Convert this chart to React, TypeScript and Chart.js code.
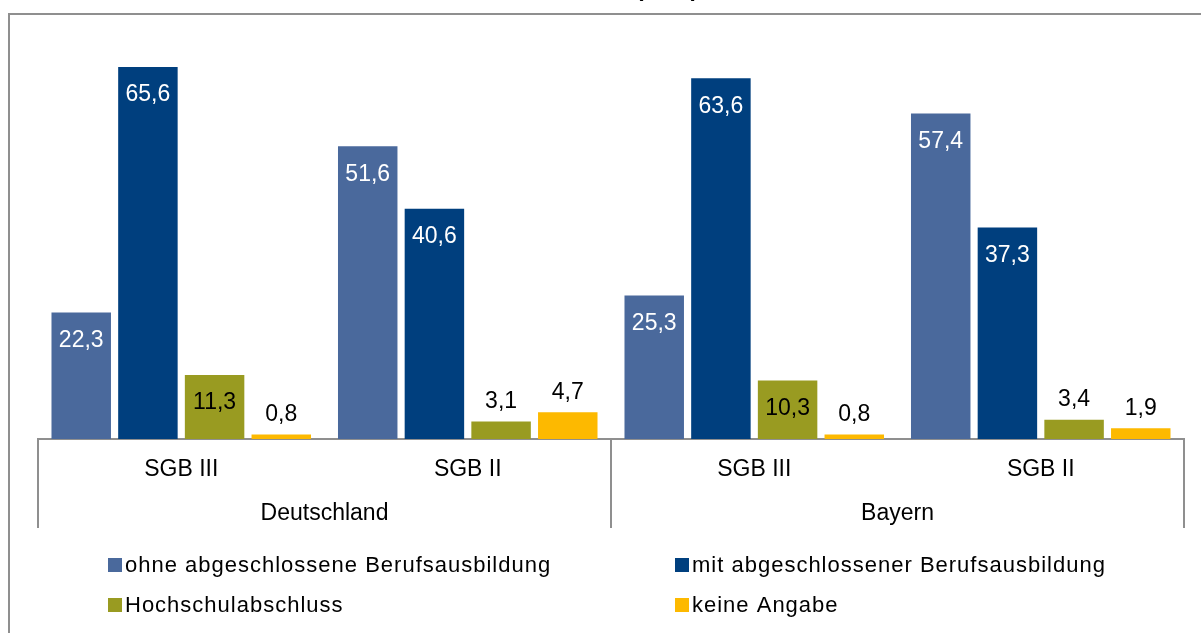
import React, { useEffect, useRef } from 'react';
import { Chart, registerables } from 'chart.js';

Chart.register(...registerables);

const innerLabels = ['SGB III', 'SGB II', 'SGB III', 'SGB II'];
const outerLabels = ['Deutschland', 'Bayern'];
const seriesNames = [
  'ohne abgeschlossene Berufsausbildung',
  'mit abgeschlossener Berufsausbildung',
  'Hochschulabschluss',
  'keine Angabe',
];
const ohneValues = [22.3, 51.6, 25.3, 57.4];
const mitValues = [65.6, 40.6, 63.6, 37.3];
const hochschulValues = [11.3, 3.1, 10.3, 3.4];
const keineValues = [0.8, 4.7, 0.8, 1.9];
const seriesColors = ['#4A699C', '#003F7E', '#999B21', '#FDB900'];
const insideLabelColors = ['#FFFFFF', '#FFFFFF', '#000000', '#000000'];
const titleText = '(in %)';
const yMin = 0;
const yMax = 70;
const insideThreshold = 10;

const FONT = '"Liberation Sans", Arial, sans-serif';
const GRAY = '#8f8f8f';

const framePlugin = {
  id: 'frame',
  beforeDraw(chart: any) {
    const ctx = chart.ctx;
    ctx.save();
    ctx.fillStyle = '#ffffff';
    ctx.fillRect(0, 0, chart.width, chart.height);
    ctx.strokeStyle = GRAY;
    ctx.lineWidth = 2;
    ctx.strokeRect(9, 14, chart.width + 200, chart.height + 200);
    ctx.restore();
  },
};

const titlePlugin = {
  id: 'cutTitle',
  afterDraw(chart: any) {
    const ctx = chart.ctx;
    ctx.save();
    ctx.font = `bold 23px ${FONT}`;
    ctx.fillStyle = '#000';
    ctx.textAlign = 'center';
    ctx.textBaseline = 'alphabetic';
    ctx.fillText(titleText, 667, -4);
    ctx.restore();
  },
};

const valueLabelPlugin = {
  id: 'valueLabels',
  afterDatasetsDraw(chart: any) {
    const ctx = chart.ctx;
    ctx.save();
    ctx.font = `23px ${FONT}`;
    ctx.textAlign = 'center';
    ctx.textBaseline = 'middle';
    chart.data.datasets.forEach((ds: any, di: number) => {
      const meta = chart.getDatasetMeta(di);
      meta.data.forEach((el: any, i: number) => {
        const v = ds.data[i];
        const txt = v.toFixed(1).replace('.', ',');
        if (v >= insideThreshold) {
          ctx.fillStyle = insideLabelColors[di];
          ctx.fillText(txt, el.x, el.y + 28);
        } else {
          ctx.fillStyle = '#000';
          ctx.fillText(txt, el.x, el.y - 20);
        }
      });
    });
    ctx.restore();
  },
};

const legendPlugin = {
  id: 'gridLegend',
  afterDraw(chart: any) {
    const ctx = chart.ctx;
    const colX = [108, 675];
    const rowY = [565, 605];
    ctx.save();
    ctx.font = `22px ${FONT}`;
    try { (ctx as any).letterSpacing = '1px'; } catch (e) {}
    ctx.textAlign = 'left';
    ctx.textBaseline = 'middle';
    chart.data.datasets.forEach((ds: any, i: number) => {
      const x = colX[i % 2];
      const y = rowY[Math.floor(i / 2)];
      ctx.fillStyle = ds.backgroundColor;
      ctx.fillRect(x, y - 7, 14, 14);
      ctx.fillStyle = '#000';
      ctx.fillText(ds.label, x + 17, y + 1);
    });
    ctx.restore();
  },
};

export default function App() {
  const ref = useRef<HTMLCanvasElement>(null);
  useEffect(() => {
    if (!ref.current) return;
    const values = [ohneValues, mitValues, hochschulValues, keineValues];
    const chart = new Chart(ref.current, {
      type: 'bar',
      data: {
        labels: innerLabels,
        datasets: values.map((d, i) => ({
          label: seriesNames[i],
          data: d,
          backgroundColor: seriesColors[i],
          borderWidth: 0,
          categoryPercentage: 0.931,
          barPercentage: 0.892,
        })),
      },
      options: {
        responsive: false,
        animation: false,
        layout: { padding: { top: 42, bottom: 105, left: 38, right: 17 } },
        plugins: {
          legend: { display: false },
          tooltip: { enabled: false },
          title: { display: false },
        },
        scales: {
          y: { display: false, min: yMin, max: yMax },
          x: {
            type: 'category',
            position: 'bottom',
            weight: 0,
            offset: true,
            grid: {
              offset: true,
              drawOnChartArea: false,
              drawTicks: true,
              tickLength: 46,
              lineWidth: 2,
              color: (c: any) =>
                c.index === undefined || c.index % 2 === 0 ? GRAY : 'rgba(0,0,0,0)',
            },
            border: { display: true, color: GRAY, width: 2 },
            ticks: {
              padding: -15,
              crossAlign: 'center',
              color: '#000',
              maxRotation: 0,
              autoSkip: false,
              font: { family: FONT, size: 23, lineHeight: '28px' },
            },
          },
          x2: {
            type: 'category',
            labels: outerLabels,
            position: 'bottom',
            weight: 1,
            offset: true,
            grid: {
              offset: true,
              drawOnChartArea: false,
              drawTicks: true,
              tickLength: 45,
              lineWidth: 2,
              color: GRAY,
            },
            border: { display: false },
            ticks: {
              padding: -14,
              crossAlign: 'center',
              color: '#000',
              maxRotation: 0,
              autoSkip: false,
              font: { family: FONT, size: 23, lineHeight: '28px' },
            },
          },
        },
      } as any,
      plugins: [framePlugin, valueLabelPlugin, legendPlugin, titlePlugin],
    });
    return () => chart.destroy();
  }, []);
  return (
    <div style={{ position: 'absolute', left: 0, top: 0, width: 1201, height: 633 }}>
      <canvas ref={ref} width={1201} height={633} style={{ display: 'block' }} />
    </div>
  );
}
